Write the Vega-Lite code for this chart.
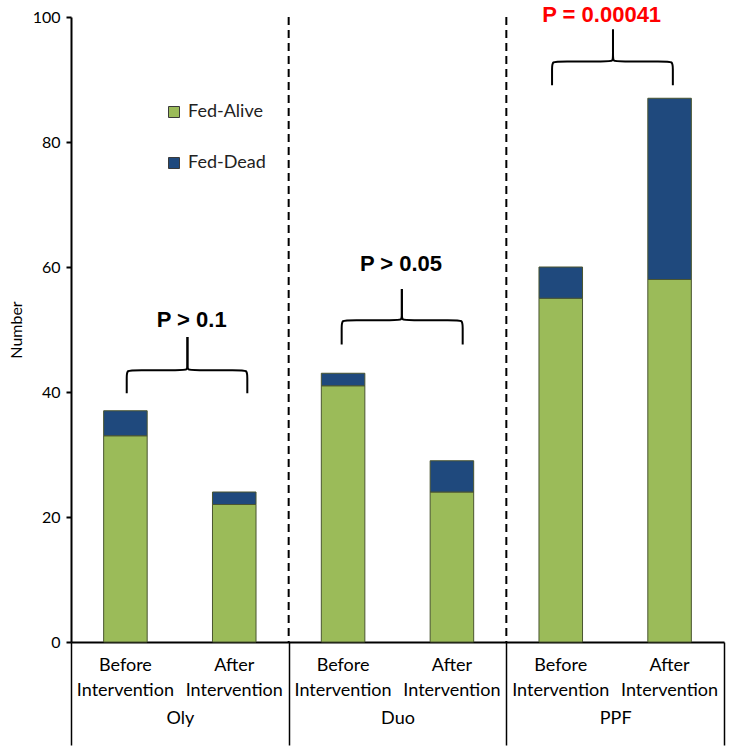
{
  "$schema": "https://vega.github.io/schema/vega-lite/v6.json",
  "width": 653,
  "height": 625,
  "autosize": {"type": "none"},
  "padding": {"left": 71, "top": 17, "right": 9, "bottom": 112},
  "background": "white",
  "config": {
    "view": {"stroke": null},
    "font": "Lato",
    "axis": {"labelColor": "black", "titleColor": "black", "labelFont": "Lato", "titleFont": "Lato"}
  },
  "datasets": {
    "bars": [
      {"bar": "Oly Before Intervention", "group": "Oly", "status": "Fed-Alive", "count": 33},
      {"bar": "Oly Before Intervention", "group": "Oly", "status": "Fed-Dead", "count": 4},
      {"bar": "Oly After Intervention", "group": "Oly", "status": "Fed-Alive", "count": 22},
      {"bar": "Oly After Intervention", "group": "Oly", "status": "Fed-Dead", "count": 2},
      {"bar": "Duo Before Intervention", "group": "Duo", "status": "Fed-Alive", "count": 41},
      {"bar": "Duo Before Intervention", "group": "Duo", "status": "Fed-Dead", "count": 2},
      {"bar": "Duo After Intervention", "group": "Duo", "status": "Fed-Alive", "count": 24},
      {"bar": "Duo After Intervention", "group": "Duo", "status": "Fed-Dead", "count": 5},
      {"bar": "PPF Before Intervention", "group": "PPF", "status": "Fed-Alive", "count": 55},
      {"bar": "PPF Before Intervention", "group": "PPF", "status": "Fed-Dead", "count": 5},
      {"bar": "PPF After Intervention", "group": "PPF", "status": "Fed-Alive", "count": 58},
      {"bar": "PPF After Intervention", "group": "PPF", "status": "Fed-Dead", "count": 29}
    ],
    "groups": [{"group": "Oly"}, {"group": "Duo"}, {"group": "PPF"}],
    "braces": [
      {"part": "Oly-L", "i": 0, "bx": 0.512, "by": 39.8},
      {"part": "Oly-L", "i": 1, "bx": 0.512, "by": 42.5},
      {"part": "Oly-L", "i": 2, "bx": 0.512, "by": 43.5},
      {"part": "Oly-L", "i": 3, "bx": 0.59, "by": 43.5},
      {"part": "Oly-L", "i": 4, "bx": 1.02, "by": 43.5},
      {"part": "Oly-L", "i": 5, "bx": 1.07, "by": 43.5},
      {"part": "Oly-L", "i": 6, "bx": 1.07, "by": 44.3},
      {"part": "Oly-L", "i": 7, "bx": 1.07, "by": 48.8},
      {"part": "Oly-R", "i": 0, "bx": 1.62, "by": 39.8},
      {"part": "Oly-R", "i": 1, "bx": 1.62, "by": 42.5},
      {"part": "Oly-R", "i": 2, "bx": 1.62, "by": 43.5},
      {"part": "Oly-R", "i": 3, "bx": 1.54, "by": 43.5},
      {"part": "Oly-R", "i": 4, "bx": 1.12, "by": 43.5},
      {"part": "Oly-R", "i": 5, "bx": 1.07, "by": 43.5},
      {"part": "Oly-R", "i": 6, "bx": 1.07, "by": 44.3},
      {"part": "Oly-R", "i": 7, "bx": 1.07, "by": 48.8},
      {"part": "Duo-L", "i": 0, "bx": 2.487, "by": 47.6},
      {"part": "Duo-L", "i": 1, "bx": 2.487, "by": 50.5},
      {"part": "Duo-L", "i": 2, "bx": 2.487, "by": 51.5},
      {"part": "Duo-L", "i": 3, "bx": 2.565, "by": 51.5},
      {"part": "Duo-L", "i": 4, "bx": 2.99, "by": 51.5},
      {"part": "Duo-L", "i": 5, "bx": 3.04, "by": 51.5},
      {"part": "Duo-L", "i": 6, "bx": 3.04, "by": 52.3},
      {"part": "Duo-L", "i": 7, "bx": 3.04, "by": 56.5},
      {"part": "Duo-R", "i": 0, "bx": 3.599, "by": 47.6},
      {"part": "Duo-R", "i": 1, "bx": 3.599, "by": 50.5},
      {"part": "Duo-R", "i": 2, "bx": 3.599, "by": 51.5},
      {"part": "Duo-R", "i": 3, "bx": 3.52, "by": 51.5},
      {"part": "Duo-R", "i": 4, "bx": 3.09, "by": 51.5},
      {"part": "Duo-R", "i": 5, "bx": 3.04, "by": 51.5},
      {"part": "Duo-R", "i": 6, "bx": 3.04, "by": 52.3},
      {"part": "Duo-R", "i": 7, "bx": 3.04, "by": 56.5},
      {"part": "PPF-L", "i": 0, "bx": 4.42, "by": 89.1},
      {"part": "PPF-L", "i": 1, "bx": 4.42, "by": 91.9},
      {"part": "PPF-L", "i": 2, "bx": 4.42, "by": 92.9},
      {"part": "PPF-L", "i": 3, "bx": 4.5, "by": 92.9},
      {"part": "PPF-L", "i": 4, "bx": 4.93, "by": 92.9},
      {"part": "PPF-L", "i": 5, "bx": 4.98, "by": 92.9},
      {"part": "PPF-L", "i": 6, "bx": 4.98, "by": 93.7},
      {"part": "PPF-L", "i": 7, "bx": 4.98, "by": 98.0},
      {"part": "PPF-R", "i": 0, "bx": 5.53, "by": 89.1},
      {"part": "PPF-R", "i": 1, "bx": 5.53, "by": 91.9},
      {"part": "PPF-R", "i": 2, "bx": 5.53, "by": 92.9},
      {"part": "PPF-R", "i": 3, "bx": 5.45, "by": 92.9},
      {"part": "PPF-R", "i": 4, "bx": 5.03, "by": 92.9},
      {"part": "PPF-R", "i": 5, "bx": 4.98, "by": 92.9},
      {"part": "PPF-R", "i": 6, "bx": 4.98, "by": 93.7},
      {"part": "PPF-R", "i": 7, "bx": 4.98, "by": 98.0}
    ],
    "pvals": [
      {"label": "P > 0.1", "tx": 1.109, "ty": 51.5},
      {"label": "P > 0.05", "tx": 3.032, "ty": 60.5},
      {"label": "P = 0.00041", "tx": 4.876, "ty": 100.3}
    ]
  },
  "layer": [
    {
      "data": {"name": "bars"},
      "mark": {"type": "bar", "stroke": "#4a5530", "strokeWidth": 1},
      "encoding": {
        "x": {
          "field": "bar",
          "type": "nominal",
          "scale": {
            "domain": ["Oly Before Intervention", "Oly After Intervention", "Duo Before Intervention", "Duo After Intervention", "PPF Before Intervention", "PPF After Intervention"],
            "paddingInner": 0.6,
            "paddingOuter": 0.3
          },
          "axis": {
            "orient": "bottom",
            "title": null,
            "domain": true,
            "domainColor": "black",
            "domainWidth": 2,
            "ticks": false,
            "tickSize": 0,
            "labelAngle": 0,
            "labelExpr": "slice(split(datum.label, ' '), 1)",
            "labelFontSize": 18,
            "labelLineHeight": 25,
            "labelPadding": 14
          }
        },
        "y": {
          "field": "count",
          "type": "quantitative",
          "stack": "zero",
          "scale": {"domain": [0, 100], "nice": false},
          "axis": {
            "orient": "left",
            "title": "Number",
            "titleFontSize": 16,
            "titleFontWeight": "normal",
            "titlePadding": 8,
            "values": [0, 20, 40, 60, 80, 100],
            "grid": false,
            "domainColor": "black",
            "domainWidth": 2,
            "tickColor": "black",
            "tickWidth": 2,
            "tickSize": 5,
            "labelFontSize": 16,
            "labelPadding": 6
          }
        },
        "color": {
          "field": "status",
          "type": "nominal",
          "scale": {"domain": ["Fed-Alive", "Fed-Dead"], "range": ["#9bbb59", "#1f497d"]},
          "legend": {
            "title": null,
            "orient": "none",
            "legendX": 94,
            "legendY": 86,
            "padding": 0,
            "symbolType": "square",
            "symbolSize": 121,
            "symbolStrokeColor": "#3a3a3a",
            "symbolStrokeWidth": 1,
            "labelFont": "Lato",
            "labelFontSize": 18,
            "labelColor": "#222",
            "labelOffset": 5,
            "rowPadding": 33
          }
        },
        "order": {"field": "status", "sort": "ascending"}
      }
    },
    {
      "data": {"name": "groups"},
      "transform": [{"filter": "datum.group != 'Oly'"}],
      "mark": {"type": "rule", "color": "black", "strokeWidth": 2, "strokeDash": [8, 5]},
      "encoding": {
        "x": {
          "field": "group",
          "type": "nominal",
          "bandPosition": 0,
          "scale": {"domain": ["Oly", "Duo", "PPF"], "paddingInner": 0, "paddingOuter": 0},
          "axis": {
            "orient": "bottom",
            "title": null,
            "domain": false,
            "ticks": true,
            "tickBand": "extent",
            "tickSize": 103,
            "tickColor": "black",
            "tickWidth": 1.5,
            "labelAngle": 0,
            "labelFontSize": 18,
            "labelPadding": -36,
            "grid": false
          }
        }
      }
    },
    {
      "data": {"name": "braces"},
      "mark": {"type": "line", "color": "black", "strokeWidth": 2, "interpolate": "basis"},
      "encoding": {
        "x": {"field": "bx", "type": "quantitative", "scale": {"domain": [0, 6], "nice": false, "zero": false}, "axis": null},
        "y": {"field": "by", "type": "quantitative", "scale": {"domain": [0, 100], "nice": false}, "axis": null},
        "detail": {"field": "part"},
        "order": {"field": "i"}
      }
    },
    {
      "data": {"name": "pvals"},
      "mark": {"type": "text", "font": "Liberation Sans", "fontWeight": "bold", "fontSize": 22, "align": "center", "baseline": "middle"},
      "encoding": {
        "x": {"field": "tx", "type": "quantitative", "scale": {"domain": [0, 6], "nice": false, "zero": false}, "axis": null},
        "y": {"field": "ty", "type": "quantitative", "scale": {"domain": [0, 100], "nice": false}, "axis": null},
        "text": {"field": "label"},
        "color": {"condition": {"test": "datum.label == 'P = 0.00041'", "value": "#ff0000"}, "value": "black"}
      }
    }
  ],
  "resolve": {"scale": {"x": "independent"}, "axis": {"x": "independent", "y": "independent"}}
}
